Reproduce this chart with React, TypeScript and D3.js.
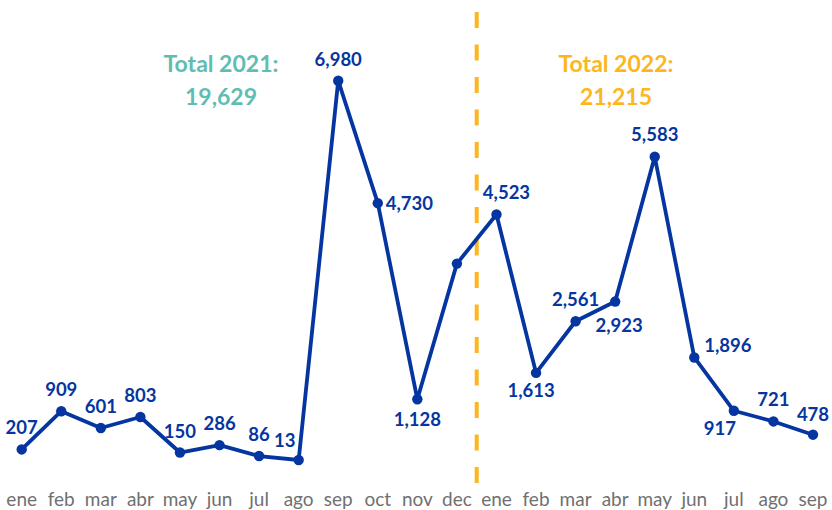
import React from "react";
import * as d3 from "d3";

const months = ["ene","feb","mar","abr","may","jun","jul","ago","sep","oct","nov","dec","ene","feb","mar","abr","may","jun","jul","ago","sep"];
const values = [207,909,601,803,150,286,86,13,6980,4730,1128,3620,4523,1613,2561,2923,5583,1896,917,721,478];
const valueLabels = ["207","909","601","803","150","286","86","13","6,980","4,730","1,128","","4,523","1,613","2,561","2,923","5,583","1,896","917","721","478"];
const totalLabels = ["Total 2021:", "19,629", "Total 2022:", "21,215"];

// label placement per point: [dx, dy, anchor]
const place: [number, number, string][] = [
  [0,-15,"middle"],[0,-15,"middle"],[0,-15,"middle"],[0,-15,"middle"],[0,-15,"middle"],[0,-15,"middle"],[0,-15,"middle"],[-14,-13,"middle"],
  [0,-15,"middle"],[8,7,"start"],[0,27,"middle"],[0,0,"middle"],[10,-15,"middle"],[-5,24,"middle"],[0,-15,"middle"],[4,30,"middle"],
  [0,-16,"middle"],[10,-5,"start"],[-14,24,"middle"],[0,-15,"middle"],[0,-14,"middle"]
];

const BLUE = "#0535a0";
const TEAL = "#5fbdb2";
const GOLD = "#fdb61e";
const FONT = "Lato, 'Open Sans', sans-serif";

export default function App() {
  const x = d3.scaleLinear().domain([0, months.length - 1]).range([21.7, 813]);
  const y = d3.scaleLinear().domain([0, 6980]).range([460.7, 80.7]);
  const line = d3.line<number>().x((_, i) => x(i)).y(d => y(d));
  const divX = (x(11) + x(12)) / 2;

  return (
    <svg width={832} height={510} style={{ position: "absolute", left: 0, top: 0, background: "#fff" }}>
      <line x1={divX} x2={divX} y1={12} y2={483} stroke={GOLD} strokeWidth={4} strokeDasharray="16 16.5" />
      <path d={line(values) || ""} fill="none" stroke={BLUE} strokeWidth={3.8} strokeLinejoin="round" />
      {values.map((v, i) => (
        <circle key={i} cx={x(i)} cy={y(v)} r={5.2} fill={BLUE} />
      ))}
      {values.map((v, i) => valueLabels[i] ? (
        <text key={"l" + i} x={x(i) + place[i][0]} y={y(v) + place[i][1]} textAnchor={place[i][2] as any}
          fill={BLUE} fontFamily={FONT} fontWeight={700} fontSize={18.5}>{valueLabels[i]}</text>
      ) : null)}
      {months.map((m, i) => (
        <text key={"m" + i} x={x(i)} y={506} textAnchor="middle" fill="#707070" fontFamily={FONT} fontSize={19}>{m}</text>
      ))}
      <text x={221} y={71.5} textAnchor="middle" fill={TEAL} fontFamily={FONT} fontWeight={700} fontSize={23}>{totalLabels[0]}</text>
      <text x={221} y={105} textAnchor="middle" fill={TEAL} fontFamily={FONT} fontWeight={700} fontSize={23}>{totalLabels[1]}</text>
      <text x={616} y={71.5} textAnchor="middle" fill={GOLD} fontFamily={FONT} fontWeight={700} fontSize={23}>{totalLabels[2]}</text>
      <text x={616} y={105} textAnchor="middle" fill={GOLD} fontFamily={FONT} fontWeight={700} fontSize={23}>{totalLabels[3]}</text>
    </svg>
  );
}
